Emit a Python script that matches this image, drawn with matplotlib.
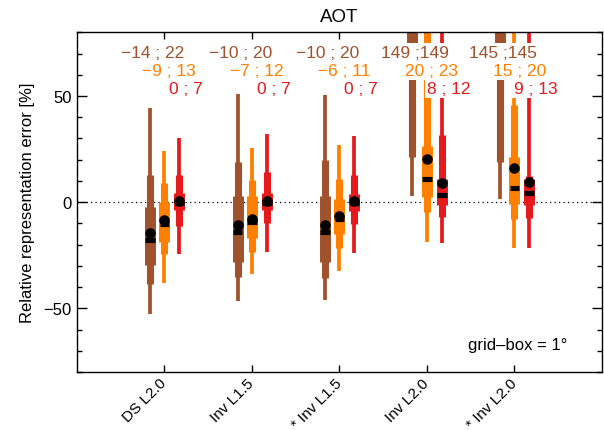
import matplotlib
matplotlib.use('Agg')
import matplotlib.pyplot as plt
from matplotlib.ticker import MultipleLocator
import numpy as np

plt.rcParams['font.family'] = ['Liberation Sans', 'DejaVu Sans']

# ---------------- data ----------------
categories = ["DS L2.0", "Inv L1.5", "* Inv L1.5", "Inv L2.0", "* Inv L2.0"]

# series A (brown)
a_thin_lo = [-52.8, -46.5, -46.1, 3.0, 1.4]
a_med_lo = [-38.7, -35.1, -35.5, 21.3, 19.0]
a_wide_lo = [-29.6, -28.3, -28.3, 62.0, 62.0]
a_median = [-17.7, -13.9, -13.9, 150.0, 146.0]
a_wide_hi = [-2.2, 3.0, 3.0, 180.0, 175.0]
a_med_hi = [13.0, 19.0, 19.7, 220.0, 215.0]
a_thin_hi = [44.4, 51.0, 50.5, 260.0, 255.0]
a_mean = [-14.7, -10.8, -10.8, 149.0, 145.0]
a_labels = ["\u221214 ; 22", "\u221210 ; 20", "\u221210 ; 20", "149 ;149", "145 ;145"]

# series B (orange)
b_thin_lo = [-38.2, -34.0, -32.4, -18.6, -21.8]
b_med_lo = [-24.6, -23.3, -21.8, -4.5, -8.1]
b_wide_lo = [-18.6, -17.1, -15.2, 2.5, -0.9]
b_median = [-10.3, -9.5, -8.0, 11.1, 6.9]
b_wide_hi = [0.2, 3.0, 1.7, 26.5, 21.3]
b_med_hi = [8.8, 10.3, 10.7, 85.0, 45.9]
b_thin_hi = [24.0, 25.7, 26.8, 95.0, 90.0]
b_mean = [-8.5, -7.7, -6.4, 20.5, 16.2]
b_labels = ["\u22129 ; 13", "\u22127 ; 12", "\u22126 ; 11", "20 ; 23", "15 ; 20"]

# series C (red)
c_thin_lo = [-24.6, -23.3, -24.0, -19.4, -21.8]
c_med_lo = [-11.1, -10.0, -10.5, -6.9, -7.5]
c_wide_lo = [-3.8, -3.8, -4.0, -1.4, -1.4]
c_median = [-0.5, -0.6, -0.5, 3.6, 4.1]
c_wide_hi = [4.1, 4.1, 4.0, 11.1, 11.1]
c_med_hi = [13.0, 14.0, 13.0, 31.5, 12.5]
c_thin_hi = [30.4, 32.0, 31.0, 95.0, 95.0]
c_mean = [0.5, 0.7, 0.5, 8.8, 9.6]
c_labels = ["0 ; 7", "0 ; 7", "0 ; 7", "8 ; 12", "9 ; 13"]

series = [
    (a_thin_lo, a_med_lo, a_wide_lo, a_median, a_wide_hi, a_med_hi, a_thin_hi, a_mean, a_labels),
    (b_thin_lo, b_med_lo, b_wide_lo, b_median, b_wide_hi, b_med_hi, b_thin_hi, b_mean, b_labels),
    (c_thin_lo, c_med_lo, c_wide_lo, c_median, c_wide_hi, c_med_hi, c_thin_hi, c_mean, c_labels),
]
colors = ['#A0522D', '#FF8000', '#E41A1C']
box_offsets = [-0.165, 0.0, 0.17]
text_offsets = [-0.135, 0.055, 0.25]
text_y = [70.6, 62.0, 53.4]

# ---------------- figure ----------------
fig = plt.figure(figsize=(6.04, 4.31), dpi=100)
ax = fig.add_axes([0.1275, 0.1346, 0.869, 0.788])

x = np.arange(1, len(categories) + 1)
lw_thin, lw_med, lw_wide = 2.7, 5.1, 7.9

ax.axhline(0, color='black', lw=0.9, ls=(0, (1, 2.6)), zorder=1)

for (tlo, mlo, wlo, med, whi, mhi, thi, mean, labels), col, off, toff, ty in zip(
        series, colors, box_offsets, text_offsets, text_y):
    xs = x + off
    ax.vlines(xs, tlo, thi, color=col, lw=lw_thin, zorder=2, capstyle='butt')
    ax.vlines(xs, mlo, mhi, color=col, lw=lw_med, zorder=2.1, capstyle='butt')
    ax.vlines(xs, wlo, whi, color=col, lw=lw_wide, zorder=2.2, capstyle='butt')
    ax.hlines(med, xs - 0.055, xs + 0.055, color='black', lw=3.7, zorder=3)
    ax.plot(xs, mean, 'o', color='black', ms=6.6, zorder=3.1, clip_on=True)
    for xi, lab in zip(x, labels):
        ax.text(xi + toff, ty, lab, color=col, ha='center', va='center',
                fontsize=12.5, zorder=5,
                bbox=dict(facecolor='white', edgecolor='none', pad=1.5))

ax.set_xlim(0, 6)
ax.set_ylim(-80, 80)
ax.set_xticks(x)
ax.set_xticklabels(categories, rotation=45, ha='right', va='center',
                   rotation_mode='anchor', fontsize=11)
ax.set_yticks([-50, 0, 50])
ax.yaxis.set_minor_locator(MultipleLocator(10))
ax.tick_params(axis='both', which='both', direction='in', top=True, right=True,
               labelsize=12, width=1.0)
ax.tick_params(axis='x', labelsize=11)
ax.tick_params(axis='y', which='major', length=7.5, pad=4)
ax.tick_params(axis='y', which='minor', length=3.5)
ax.tick_params(axis='x', which='major', length=5, pad=6)
for s in ax.spines.values():
    s.set_linewidth(1.0)

ax.set_title('AOT', fontsize=13.5, pad=8)
ax.set_ylabel('Relative representation error [%]', fontsize=12, labelpad=6)
ax.text(5.61, -67.2, 'grid\u2013box = 1\u00b0', ha='right', va='center', fontsize=12)

fig.savefig('out.png', dpi=100)
